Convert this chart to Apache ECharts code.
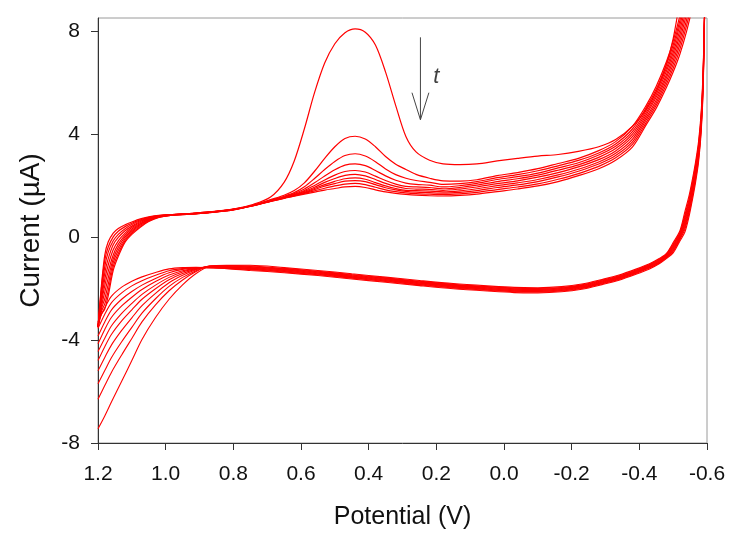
<!DOCTYPE html>
<html>
<head>
<meta charset="utf-8">
<script src="https://cdn.jsdelivr.net/npm/echarts@6/dist/echarts.min.js"></script>
<style>html,body{margin:0;padding:0;background:#fff}#c{width:750px;height:546px}</style>
</head>
<body>
<div id="c"></div>
<script>
// Tick labels
const X_TICKS = [1.2, 1.0, 0.8, 0.6, 0.4, 0.2, 0.0, -0.2, -0.4, -0.6];
const Y_TICKS = [-8, -4, 0, 4, 8];

// Forward sweep (upper branch), potentials in V
const E_UP = [1.2, 1.19, 1.18, 1.17, 1.155, 1.14, 1.12, 1.1, 1.075, 1.05, 1.02, 0.98, 0.93, 0.87, 0.8, 0.74,
  0.69, 0.65, 0.62, 0.59, 0.56, 0.53, 0.5, 0.47, 0.44, 0.41, 0.38, 0.35, 0.32, 0.29, 0.26, 0.22, 0.18, 0.13,
  0.08, 0.02, -0.04, -0.1, -0.16, -0.22, -0.28, -0.33, -0.38, -0.42, -0.45, -0.48, -0.5, -0.52, -0.54, -0.56];

// Currents (µA) of the upper branch for each cycle
const UP_1 = [-3.5,-1.9,-0.7,-0.2,0.15,0.33,0.47,0.58,0.7,0.78,0.84,0.87,0.91,0.97,1.08,1.27,
  1.55,2.12,2.95,4.2,5.6,6.75,7.5,7.93,8.08,7.95,7.45,6.4,5.1,3.9,3.3,2.98,2.84,2.81,2.84,2.95,3.05,3.14,3.2,3.32,3.5,3.78,4.3,4.95,5.65,6.7,7.7,9.2,11,13];
const UP_2 = [-3.5,-2.0,-0.9,-0.4,0.0,0.22,0.4,0.53,0.66,0.76,0.83,0.87,0.91,0.97,1.08,1.24,
  1.45,1.62,1.8,2.1,2.55,3.05,3.5,3.82,3.91,3.8,3.5,3.12,2.82,2.62,2.43,2.28,2.18,2.17,2.22,2.38,2.5,2.65,2.85,3.05,3.35,3.7,4.3,5.1,5.85,6.8,7.6,8.6,9.8,11];
const UP_3 = [-3.5,-2.15,-1.15,-0.6,-0.15,0.1,0.32,0.48,0.63,0.74,0.82,0.87,0.9,0.96,1.07,1.24,
  1.43,1.58,1.72,1.95,2.27,2.62,2.93,3.16,3.23,3.14,2.92,2.64,2.42,2.28,2.19,2.12,2.04,2.07,2.15,2.3,2.42,2.57,2.76,2.97,3.26,3.61,4.2,5.01,5.74,6.68,7.45,8.41,9.58,10.76];
const UP_4 = [-3.5,-2.3,-1.4,-0.85,-0.3,-0.02,0.24,0.42,0.6,0.72,0.81,0.86,0.9,0.96,1.07,1.23,
  1.41,1.55,1.68,1.86,2.1,2.37,2.61,2.79,2.84,2.77,2.58,2.37,2.2,2.09,2.04,2.01,1.94,1.99,2.08,2.23,2.34,2.48,2.68,2.88,3.18,3.52,4.1,4.91,5.64,6.55,7.3,8.23,9.35,10.53];
const UP_5 = [-3.5,-2.45,-1.65,-1.1,-0.5,-0.15,0.15,0.37,0.56,0.7,0.8,0.86,0.9,0.96,1.07,1.23,
  1.4,1.54,1.65,1.8,2.0,2.21,2.4,2.54,2.58,2.52,2.36,2.19,2.05,1.96,1.94,1.92,1.87,1.92,2.01,2.15,2.26,2.4,2.59,2.8,3.09,3.43,4.0,4.82,5.53,6.43,7.15,8.04,9.13,10.29];
const UP_6 = [-3.5,-2.55,-1.9,-1.35,-0.7,-0.28,0.07,0.31,0.52,0.68,0.79,0.86,0.89,0.95,1.06,1.22,
  1.4,1.53,1.63,1.77,1.93,2.12,2.27,2.39,2.43,2.37,2.23,2.08,1.96,1.88,1.86,1.85,1.81,1.86,1.94,2.07,2.18,2.32,2.5,2.72,3.0,3.34,3.9,4.73,5.43,6.3,7.0,7.85,8.9,10.05];
const UP_7 = [-3.5,-2.7,-2.15,-1.6,-0.85,-0.4,0.0,0.25,0.49,0.66,0.79,0.86,0.89,0.95,1.06,1.22,
  1.39,1.52,1.62,1.73,1.88,2.03,2.16,2.26,2.29,2.24,2.11,1.98,1.88,1.81,1.8,1.78,1.75,1.79,1.87,1.99,2.1,2.23,2.41,2.63,2.91,3.25,3.8,4.63,5.32,6.18,6.85,7.66,8.68,9.81];
const UP_8 = [-3.5,-2.8,-2.4,-1.85,-1.0,-0.52,-0.07,0.2,0.45,0.64,0.78,0.85,0.89,0.95,1.06,1.22,
  1.39,1.51,1.61,1.71,1.84,1.97,2.07,2.17,2.19,2.15,2.03,1.91,1.83,1.77,1.74,1.72,1.7,1.73,1.8,1.92,2.02,2.15,2.33,2.55,2.83,3.16,3.7,4.54,5.21,6.05,6.7,7.48,8.45,9.58];
const UP_9 = [-3.5,-2.9,-2.6,-2.1,-1.15,-0.64,-0.14,0.15,0.41,0.62,0.77,0.85,0.88,0.94,1.05,1.21,
  1.38,1.51,1.59,1.69,1.79,1.89,1.98,2.05,2.08,2.03,1.93,1.83,1.76,1.71,1.68,1.66,1.64,1.67,1.73,1.84,1.94,2.06,2.24,2.46,2.74,3.07,3.6,4.44,5.11,5.93,6.55,7.29,8.23,9.34];
const UP_10 = [-3.5,-3.0,-2.8,-2.3,-1.3,-0.75,-0.2,0.1,0.38,0.6,0.76,0.85,0.88,0.94,1.05,1.21,
  1.38,1.5,1.58,1.66,1.74,1.82,1.88,1.94,1.96,1.92,1.83,1.75,1.69,1.65,1.62,1.6,1.59,1.61,1.66,1.76,1.86,1.98,2.15,2.38,2.65,2.98,3.5,4.35,5.0,5.8,6.4,7.1,8.0,9.1];

// Reverse sweep (lower branch), potentials in V
const E_LO = [-0.594, -0.589, -0.583, -0.575, -0.566, -0.557, -0.547, -0.535, -0.52, -0.5,
  -0.48, -0.46, -0.43, -0.39, -0.34, -0.29, -0.23, -0.17, -0.1, -0.03,
  0.05, 0.15, 0.25, 0.35, 0.45, 0.55, 0.65, 0.75,
  0.82, 0.87, 0.91, 0.95, 0.99, 1.03, 1.07, 1.1, 1.13, 1.16, 1.18, 1.2];

// Currents (µA) of the lower branch for each cycle
const LO_1 = [9.5,6.7,4.9,3.7,2.9,2.25,1.6,1.0,0.24,-0.22,-0.64,-0.83,-1.04,-1.25,-1.48,-1.65,-1.83,-1.93,-1.97,-1.96,
  -1.9,-1.81,-1.69,-1.56,-1.43,-1.3,-1.19,-1.1,
  -1.1,-1.14,-1.42,-1.86,-2.42,-3.13,-3.98,-4.8,-5.6,-6.4,-6.95,-7.45];
const LO_2 = [9.5,6.58,4.78,3.58,2.78,2.13,1.48,0.88,0.18,-0.28,-0.67,-0.86,-1.07,-1.28,-1.51,-1.68,-1.86,-1.96,-2.0,-1.99,
  -1.93,-1.84,-1.72,-1.59,-1.46,-1.33,-1.22,-1.13,
  -1.11,-1.13,-1.34,-1.67,-2.09,-2.64,-3.3,-3.94,-4.58,-5.25,-5.77,-6.3];
const LO_3 = [9.5,6.5,4.7,3.5,2.7,2.05,1.4,0.8,0.14,-0.32,-0.69,-0.88,-1.09,-1.3,-1.53,-1.7,-1.88,-1.98,-2.02,-2.01,
  -1.95,-1.86,-1.74,-1.61,-1.48,-1.35,-1.24,-1.15,
  -1.12,-1.13,-1.31,-1.57,-1.92,-2.4,-2.96,-3.51,-4.07,-4.68,-5.19,-5.7];
const LO_4 = [9.5,6.42,4.62,3.42,2.62,1.97,1.32,0.72,0.1,-0.36,-0.71,-0.9,-1.11,-1.32,-1.55,-1.72,-1.9,-2.0,-2.04,-2.03,
  -1.97,-1.88,-1.76,-1.63,-1.5,-1.37,-1.26,-1.17,
  -1.13,-1.14,-1.27,-1.49,-1.78,-2.19,-2.67,-3.14,-3.63,-4.19,-4.68,-5.2];
const LO_5 = [9.5,6.34,4.54,3.34,2.54,1.89,1.24,0.64,0.06,-0.4,-0.73,-0.92,-1.13,-1.34,-1.57,-1.74,-1.92,-2.02,-2.06,-2.05,
  -1.99,-1.9,-1.78,-1.65,-1.52,-1.39,-1.28,-1.19,
  -1.15,-1.15,-1.25,-1.42,-1.66,-2.01,-2.42,-2.83,-3.26,-3.78,-4.26,-4.8];
const LO_6 = [9.5,6.26,4.46,3.26,2.46,1.81,1.16,0.56,0.02,-0.44,-0.75,-0.94,-1.15,-1.36,-1.59,-1.76,-1.94,-2.04,-2.08,-2.07,
  -2.01,-1.92,-1.8,-1.67,-1.54,-1.41,-1.3,-1.21,
  -1.17,-1.16,-1.23,-1.36,-1.57,-1.87,-2.23,-2.58,-2.97,-3.45,-3.93,-4.45];
const LO_7 = [9.5,6.18,4.38,3.18,2.38,1.73,1.08,0.48,-0.02,-0.48,-0.77,-0.96,-1.17,-1.38,-1.61,-1.78,-1.96,-2.06,-2.1,-2.09,
  -2.03,-1.94,-1.82,-1.69,-1.56,-1.43,-1.32,-1.23,
  -1.18,-1.17,-1.21,-1.31,-1.48,-1.73,-2.04,-2.34,-2.68,-3.12,-3.59,-4.15];
const LO_8 = [9.5,6.1,4.3,3.1,2.3,1.65,1.0,0.4,-0.06,-0.52,-0.79,-0.98,-1.19,-1.4,-1.63,-1.8,-1.98,-2.08,-2.12,-2.11,
  -2.05,-1.96,-1.84,-1.71,-1.58,-1.45,-1.34,-1.25,
  -1.2,-1.18,-1.2,-1.26,-1.39,-1.61,-1.87,-2.12,-2.42,-2.83,-3.3,-3.85];
const LO_9 = [9.5,6.02,4.22,3.02,2.22,1.57,0.92,0.32,-0.1,-0.56,-0.81,-1.0,-1.21,-1.42,-1.65,-1.82,-2.0,-2.1,-2.14,-2.13,
  -2.07,-1.98,-1.86,-1.73,-1.6,-1.47,-1.36,-1.27,
  -1.21,-1.19,-1.19,-1.23,-1.31,-1.49,-1.7,-1.9,-2.17,-2.55,-3.0,-3.55];
const LO_10 = [9.5,5.9,4.1,2.9,2.1,1.45,0.8,0.2,-0.16,-0.62,-0.84,-1.03,-1.24,-1.45,-1.68,-1.85,-2.03,-2.13,-2.17,-2.16,
  -2.1,-2.01,-1.89,-1.76,-1.63,-1.5,-1.39,-1.3,
  -1.23,-1.2,-1.18,-1.19,-1.24,-1.38,-1.55,-1.72,-1.95,-2.3,-2.75,-3.3];

// Annotation arrow "t" (data coordinates)
const ARROW_SHAFT = [[0.247, 7.75], [0.247, 4.55]];
const ARROW_HEAD = [[0.272, 5.6], [0.247, 4.55], [0.222, 5.6]];
const ARROW_LABEL = [[0.2, 6.2]];

const UPS = [UP_1, UP_2, UP_3, UP_4, UP_5, UP_6, UP_7, UP_8, UP_9, UP_10];
const LOS = [LO_1, LO_2, LO_3, LO_4, LO_5, LO_6, LO_7, LO_8, LO_9, LO_10];

const FONT = 'Liberation Sans, Arial, sans-serif';
const RED = '#ff0000';

function curve(xs, ys, w) {
  return {
    type: 'line', data: xs.map((x, i) => [x, ys[i]]),
    showSymbol: false, symbol: 'none', smooth: 0.3,
    lineStyle: { color: RED, width: w }, silent: true, clip: true, z: 2
  };
}

const series = [];
UPS.forEach(u => series.push(curve(E_UP, u, 1.2)));
LOS.forEach(l => series.push(curve(E_LO, l, 1.1)));
series.push({ type: 'line', data: ARROW_SHAFT, showSymbol: false, symbol: 'none',
  lineStyle: { color: '#444', width: 1 }, silent: true, z: 5 });
series.push({ type: 'line', data: ARROW_HEAD, showSymbol: false, symbol: 'none',
  lineStyle: { color: '#444', width: 1 }, silent: true, z: 5 });
series.push({ type: 'scatter', data: ARROW_LABEL, symbolSize: 0, silent: true, z: 5,
  label: { show: true, position: 'inside', formatter: 't', fontSize: 22, fontStyle: 'italic',
    fontFamily: FONT, color: '#111' } });

const chart = echarts.init(document.getElementById('c'), null, { renderer: 'canvas' });
chart.setOption({
  animation: false,
  backgroundColor: '#fff',
  grid: { left: 98, right: 43, top: 18, bottom: 103, show: true, borderColor: '#9a9a9a', borderWidth: 1 },
  xAxis: {
    type: 'value', min: -0.6, max: 1.2, inverse: true,
    splitLine: { show: false },
    axisLine: { onZero: false, lineStyle: { color: '#333', width: 1 } },
    axisTick: { customValues: X_TICKS, length: 7, lineStyle: { color: '#333' } },
    axisLabel: { customValues: X_TICKS, fontSize: 21, fontFamily: FONT, color: '#111', margin: 21,
      formatter: v => (Math.abs(v) < 1e-9 ? '0.0' : Number(v).toFixed(1)) },
    name: 'Potential (V)', nameLocation: 'middle', nameGap: 62,
    nameTextStyle: { fontSize: 25, fontFamily: FONT, color: '#111' }
  },
  yAxis: {
    type: 'value', min: -8, max: 8.5,
    splitLine: { show: false },
    axisLine: { onZero: false, lineStyle: { color: '#333', width: 1 } },
    axisTick: { customValues: Y_TICKS, length: 7, lineStyle: { color: '#333' } },
    axisLabel: { customValues: Y_TICKS, fontSize: 21, fontFamily: FONT, color: '#111', margin: 18,
      formatter: v => String(Math.round(v)) },
    name: 'Current (\u00b5A)', nameLocation: 'middle', nameGap: 53, nameRotate: 90,
    nameTextStyle: { fontSize: 28, fontFamily: FONT, color: '#111' }
  },
  series: series
});
</script>
</body>
</html>
